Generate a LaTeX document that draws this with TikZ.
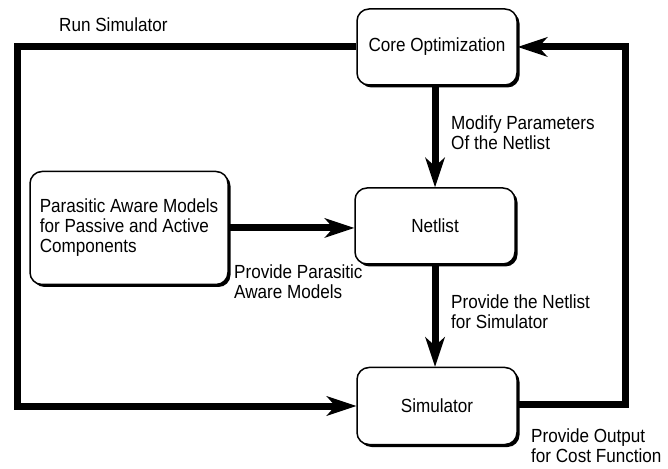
\documentclass[tikz,border=0pt]{standalone}
\usepackage{fontspec}
\setmainfont{Liberation Sans}[FakeStretch=0.9]
\usetikzlibrary{arrows.meta,shadows}
\begin{document}
\begin{tikzpicture}[x=1pt,y=1pt,
  every node/.style={font=\fontsize{19}{20}\selectfont},
  block/.style={draw=black, line width=1.5pt, rounded corners=12pt, fill=white,
    align=left, inner sep=0pt,
    drop shadow={shadow xshift=2.5pt, shadow yshift=-2.5pt, fill=black, opacity=1}},
  flow/.style={line width=7pt, line join=miter,
    -{Stealth[length=30pt, width=20pt, inset=9pt, line width=0pt]}},
  lbl/.style={anchor=west, align=left, inner sep=0pt}]
\useasboundingbox (0,0) rectangle (668,468);

% blocks
\node[block, minimum width=160pt, minimum height=76pt] (core) at (437,421) {Core Optimization};
\node[block, minimum width=160pt, minimum height=76pt] (net)  at (435,242) {Netlist};
\node[block, minimum width=160pt, minimum height=77pt] (sim)  at (437,62)  {Simulator};
\node[block, minimum width=198pt, minimum height=113pt] (para) at (129,240)
  {Parasitic Aware Models\\for Passive and Active\\Components};

% corner points of the outer loops
\coordinate (lt) at (17,421);
\coordinate (lb) at (17,62);
\coordinate (rb) at (625,64);
\coordinate (rt) at (625,421);

% connectors
\draw[flow] (core.west) -- (lt) -- (lb) -- (sim.west);
\draw[flow] (net.north |- core.south) -- (net.north);
\draw[flow] (para.east) -- (para.east -| net.west);
\draw[flow] (net.south) -- (net.south |- sim.north);
\draw[flow] (sim.east |- rb) -- (rb) -- (rt) -- (core.east);

% labels
\node[lbl] (lrun) at (59,443) {Run Simulator};
\node[lbl] (lmod) at (451,335) {Modify Parameters\\Of the Netlist};
\node[lbl] (lpar) at (234,186) {Provide Parasitic\\Aware Models};
\node[lbl] (lnet) at (451,156) {Provide the Netlist\\for Simulator};
\node[lbl] (lout) at (531,22)  {Provide Output\\for Cost Function};
\end{tikzpicture}
\end{document}
